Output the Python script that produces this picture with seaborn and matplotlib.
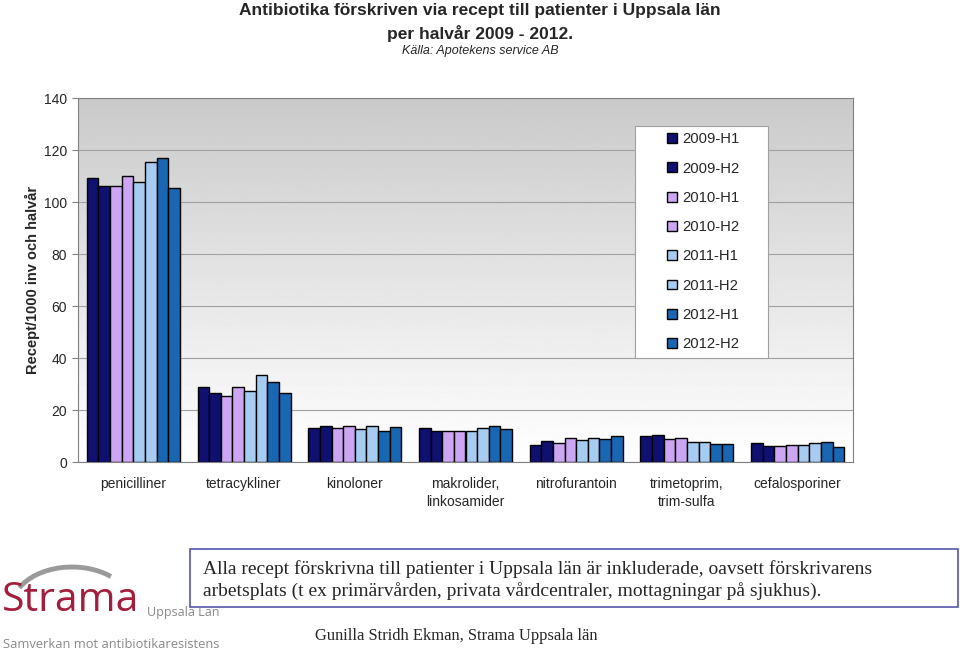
import numpy as np
import pandas as pd
import matplotlib
matplotlib.use('Agg')
import matplotlib.pyplot as plt
from matplotlib.patches import Rectangle, Arc
import seaborn as sns

# data
categories = ['penicilliner', 'tetracykliner', 'kinoloner', 'makrolider,\nlinkosamider',
              'nitrofurantoin', 'trimetoprim,\ntrim-sulfa', 'cefalosporiner']
periods = ['2009-H1', '2009-H2', '2010-H1', '2010-H2', '2011-H1', '2011-H2', '2012-H1', '2012-H2']
values = {
    '2009-H1': [109.1, 29.0, 13.2, 13.2, 6.5, 9.9, 7.3],
    '2009-H2': [106.0, 26.7, 13.8, 11.9, 8.0, 10.3, 6.3],
    '2010-H1': [106.3, 25.5, 12.9, 11.9, 7.2, 8.7, 6.0],
    '2010-H2': [110.0, 29.0, 13.8, 11.9, 9.1, 9.1, 6.5],
    '2011-H1': [107.7, 27.3, 12.6, 11.9, 8.3, 7.6, 6.5],
    '2011-H2': [115.2, 33.3, 13.7, 13.2, 9.1, 7.6, 7.3],
    '2012-H1': [116.8, 30.6, 11.9, 13.8, 8.7, 6.8, 7.7],
    '2012-H2': [105.2, 26.7, 13.5, 12.7, 9.9, 6.8, 5.8],
}
colors = ['#000080', '#000080', '#cc99ff', '#cc99ff', '#99ccff', '#99ccff', '#0066cc', '#0066cc']

rows = []
for p in periods:
    for c, v in zip(categories, values[p]):
        rows.append({'kategori': c, 'period': p, 'varde': v})
df = pd.DataFrame(rows)

sns.set_style('white')
plt.rcParams['font.family'] = ['Liberation Sans', 'DejaVu Sans']

fig = plt.figure(figsize=(9.6, 6.52), dpi=100)
ax = fig.add_axes([78 / 960, 1 - 462 / 652, 775 / 960, 364 / 652])

# gradient background (grey at top, white at bottom)
grad = np.linspace(0, 1, 256).reshape(-1, 1)
ax.imshow(grad, extent=[-0.5, 6.5, 0, 140], aspect='auto', cmap='gray',
          vmin=-3.8, vmax=1.0, origin='upper', zorder=0)

sns.barplot(data=df, x='kategori', y='varde', hue='period', palette=colors,
            edgecolor='black', linewidth=1.0, width=0.84, gap=0, ax=ax, zorder=2)

ax.set_xlim(-0.5, 6.5)
ax.set_ylim(0, 140)
ax.set_yticks(range(0, 141, 20))
ax.yaxis.grid(True, color='#a0a0a0', linewidth=0.8, zorder=1)
ax.set_axisbelow(True)
for s in ax.spines.values():
    s.set_color('#808080')
    s.set_linewidth(0.8)
ax.set_xlabel('')
ax.set_ylabel('Recept/1000 inv och halvår', fontsize=10.5, fontweight='bold')
ax.yaxis.set_label_coords(-0.049, 0.5)
ax.set_xticks(range(len(categories)))
ax.set_xticklabels(categories, fontsize=10, linespacing=1.35)
ax.set_xticks(np.arange(0.5, 6.5, 1), minor=True)
ax.tick_params(axis='x', which='major', length=0, pad=11)
ax.tick_params(axis='x', which='minor', length=5, color='#808080', direction='out')
ax.tick_params(axis='y', labelsize=10, length=4, color='#808080', direction='out', pad=4)
ax.tick_params(axis='both', bottom=True, left=True)

# legend: frame drawn separately, wider than the entries
ax.add_patch(Rectangle((0.719, 0.286), 0.171, 0.637, transform=ax.transAxes,
                       facecolor='white', edgecolor='#a0a0a0', linewidth=0.8, zorder=4))
handles, labels = ax.get_legend_handles_labels()
leg = ax.legend(handles, labels, loc='upper left', bbox_to_anchor=(0.760, 0.906),
                frameon=False, fontsize=10.7, handlelength=0.65, handleheight=0.65,
                handletextpad=0.4, labelspacing=1.03, borderpad=0, borderaxespad=0)
leg.set_zorder(5)

# titles
fig.text(0.5, 1 - 11 / 652, 'Antibiotika förskriven via recept till patienter i Uppsala län',
         ha='center', va='center', fontsize=12.5, fontweight='bold')
fig.text(0.5, 1 - 33 / 652, 'per halvår 2009 - 2012.', ha='center', va='center',
         fontsize=12.5, fontweight='bold')
fig.text(0.5, 1 - 51 / 652, 'Källa: Apotekens service AB', ha='center', va='center',
         fontsize=9, style='italic')

# footer, drawn in pixel coordinates
ov = fig.add_axes([0, 0, 1, 1])
ov.set_xlim(0, 960)
ov.set_ylim(652, 0)
ov.axis('off')
ov.add_patch(Rectangle((190, 549), 768, 58, fill=False, edgecolor='#5555aa', linewidth=1.2))
ov.text(203, 569, 'Alla recept förskrivna till patienter i Uppsala län är inkluderade, oavsett förskrivarens',
        fontsize=14, family='Liberation Serif', va='center')
ov.text(203, 591, 'arbetsplats (t ex primärvården, privata vårdcentraler, mottagningar på sjukhus).',
        fontsize=14, family='Liberation Serif', va='center')
ov.text(456, 636, 'Gunilla Stridh Ekman, Strama Uppsala län', fontsize=11.9,
        family='Liberation Serif', ha='center', va='center')
ov.add_patch(Arc((72, 607), 120, 80, theta1=200, theta2=322, color='#9a9a9a', linewidth=3.5))
ov.text(2, 611, 'Strama', fontsize=29.5, color='#a31e3c', va='baseline', family='Open Sans')
ov.text(147, 616, 'Uppsala Län', fontsize=9, color='#888888', va='baseline', family='Open Sans')
ov.text(3, 645, 'Samverkan mot antibiotikaresistens', fontsize=9.3, color='#888888',
        va='center', family='Open Sans')

fig.savefig('out.png', dpi=100)
